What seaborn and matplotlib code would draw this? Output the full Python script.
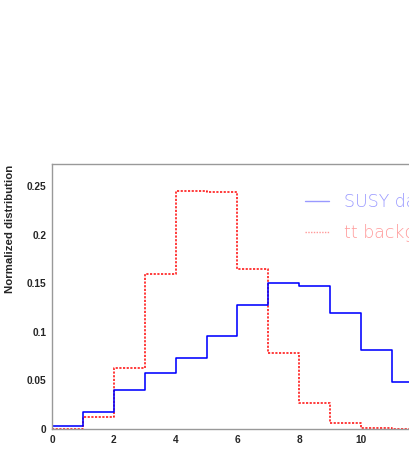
import numpy as np
import pandas as pd
import matplotlib
matplotlib.use("Agg")
import matplotlib.pyplot as plt
import seaborn as sns
from matplotlib.lines import Line2D
from matplotlib.ticker import MultipleLocator

# Data
bin_edges = list(range(0, 13))
susy_values = [0.003, 0.017, 0.040, 0.058, 0.073, 0.096, 0.128, 0.150, 0.147, 0.119, 0.081, 0.048]
tt_values = [0.0003, 0.012, 0.063, 0.160, 0.245, 0.244, 0.165, 0.078, 0.0265, 0.0065, 0.0013, 0.0002]
x_ticks = [0, 2, 4, 6, 8, 10]
y_ticks = [0, 0.05, 0.1, 0.15, 0.2, 0.25]
y_tick_labels = ["0", "0.05", "0.1", "0.15", "0.2", "0.25"]
legend_labels = ["SUSY data", "tt background"]

sns.set_style("white")
plt.rcParams['font.family'] = ['Liberation Sans', 'DejaVu Sans']

fig = plt.figure(figsize=(4.09, 4.63), dpi=100)
ax = fig.add_axes([52/409, 34/463, 1 - 52/409 + 0.01, (429-164)/463])

centers = [e + 0.5 for e in bin_edges[:-1]]
df = pd.DataFrame({"x": centers * 2,
                   "w": susy_values + tt_values,
                   "sample": [legend_labels[0]] * len(centers) + [legend_labels[1]] * len(centers)})

sns.histplot(data=df[df["sample"] == legend_labels[1]], x="x", weights="w", bins=bin_edges,
             element="step", fill=False, color="#ff1a1a", linewidth=1.2, ax=ax,
             linestyle=(0, (1.3, 0.9)))
sns.histplot(data=df[df["sample"] == legend_labels[0]], x="x", weights="w", bins=bin_edges,
             element="step", fill=False, color="#0000ff", linewidth=1.15, ax=ax)

ax.set_xlim(0, 11.68)
ax.set_ylim(0, 0.273)
ax.set_xticks(x_ticks)
ax.set_xticklabels([str(t) for t in x_ticks], fontsize=7.3, fontweight='bold')
ax.set_yticks(y_ticks)
ax.set_yticklabels(y_tick_labels, fontsize=7.3, fontweight='bold')
ax.xaxis.set_minor_locator(MultipleLocator(0.5))
ax.yaxis.set_minor_locator(MultipleLocator(0.01))
ax.tick_params(axis='both', which='major', direction='inout', length=3, width=0.8, color='#999999', pad=2.5)
ax.tick_params(axis='both', which='minor', direction='in', length=2, width=0.6, color='#999999')
ax.set_xlabel("")
ax.set_ylabel("Normalized distribution", fontsize=8.2, fontweight='bold')
ax.yaxis.set_label_coords(-0.103, 0.757)

for side in ['left', 'top', 'bottom']:
    ax.spines[side].set_color('#999999')
    ax.spines[side].set_linewidth(1.0)
ax.spines['right'].set_visible(False)

handles = [Line2D([], [], color='#9999ff', linewidth=1.0),
           Line2D([], [], color='#ff9999', linewidth=1.0, linestyle=(0, (1, 1)))]
leg = ax.legend(handles, legend_labels, loc='upper left', frameon=False,
                bbox_to_anchor=(305/409, 1 - 193/463), bbox_transform=fig.transFigure,
                handlelength=1.4, handletextpad=0.85, labelspacing=0.75,
                borderpad=0, borderaxespad=0, labelcolor=['#9999ff', '#ff9999'],
                prop={'size': 12.5, 'family': ['DejaVu Sans'], 'weight': 'light'})

fig.savefig("out.png", dpi=100)
